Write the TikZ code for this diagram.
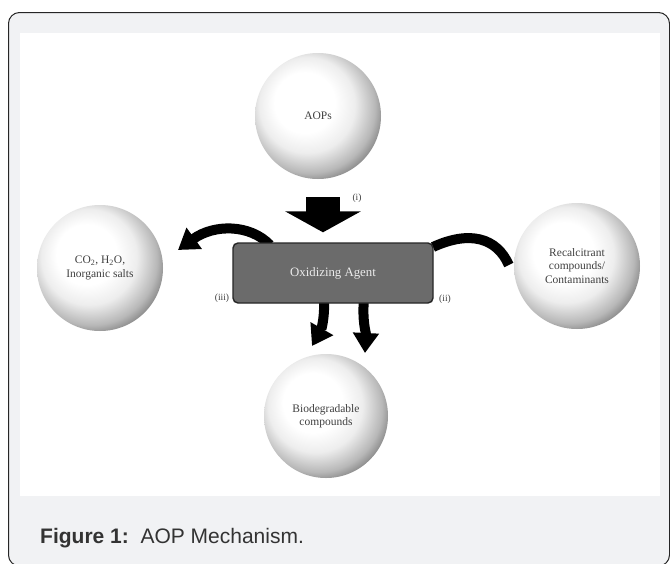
\documentclass[tikz,border=0pt]{standalone}
\usepackage{fontspec}
\setmainfont{Liberation Serif}
\newfontfamily\capfont{Liberation Sans}
\usetikzlibrary{arrows.meta,calc}
\definecolor{bgc}{HTML}{F1F2F4}
\definecolor{boxc}{HTML}{6B6B6B}
\pgfdeclareradialshading{sph}{\pgfpoint{-7bp}{7bp}}{color(0bp)=(white); color(12bp)=(white); color(19bp)=(black!7); color(26bp)=(black!28); color(31bp)=(black!55); color(35bp)=(black!40); color(50bp)=(black!35)}
\tikzset{
  sphere/.style={circle, minimum size=126pt, inner sep=0pt, shading=sph, align=center,
    text=black!75, font=\fontsize{11.5}{13.5}\selectfont},
  agentbox/.style={rounded corners=5pt, fill=boxc, draw=black!85, line width=1.4pt,
    minimum width=200pt, minimum height=60pt, text=white!92!black,
    font=\fontsize{12.8}{14}\selectfont},
  blockarrow/.style={line width=34pt, -{Triangle[width=75pt,length=21pt]}},
  bandarrow/.style={line width=10pt, -{Triangle[width=25pt,length=20pt]}},
  band/.style={line width=10pt},
  steplabel/.style={font=\fontsize{9.5}{10}\selectfont, text=black!75, inner sep=1pt}
}
\begin{document}
\begin{tikzpicture}[x=1pt,y=-1pt]
\useasboundingbox (0,0) rectangle (670,563);
\fill[white] (0,0) rectangle (670,563);
\draw[rounded corners=11pt, fill=bgc, draw=black!85, line width=1pt] (8.5,12.5) rectangle (669.5,566);
\fill[white] (20,33) rectangle (660,496);

\node[sphere] (aops) at (318,116) {AOPs};
\node[sphere] (co2) at (100,268) {CO\textsubscript{2}, H\textsubscript{2}O,\\Inorganic salts};
\node[sphere] (rec) at (577,266) {Recalcitrant\\compounds/\\Contaminants};
\node[sphere, minimum size=124pt] (bio) at (326,416) {Biodegradable\\compounds};

\coordinate (boxc) at (333,273);
% curved arrows behind the box
\draw[bandarrow] ($(boxc)+(-63,-28)$) .. controls (250,224) and (214,224) .. (178,250);
\draw[band] ($(rec.west)+(-5,-1)$) .. controls (497,238) and (470,230) .. ($(boxc)+(100,-26)$);
\draw[bandarrow] ($(boxc)+(-9,25)$) .. controls (325,322) and (320,332) .. (312,346);
\draw[bandarrow] ($(boxc)+(31,25)$) .. controls (362,322) and (366,332) .. (365,353);

\node[agentbox] (box) at (boxc) {Oxidizing Agent};

\draw[blockarrow] ($(aops.south)+(5,18)$) -- ($(box.north)+(-10,-10)$);

\node[steplabel] (li) at (357,198) {(i)};
\node[steplabel] (lii) at (445,299) {(ii)};
\node[steplabel] (liii) at (222,298) {(iii)};

\node[anchor=west, inner sep=0pt, text=black!80, font=\capfont\fontsize{21}{24}\selectfont] (cap) at (40,538)
  {\textbf{Figure 1:}\ \ AOP Mechanism.};
\end{tikzpicture}
\end{document}
